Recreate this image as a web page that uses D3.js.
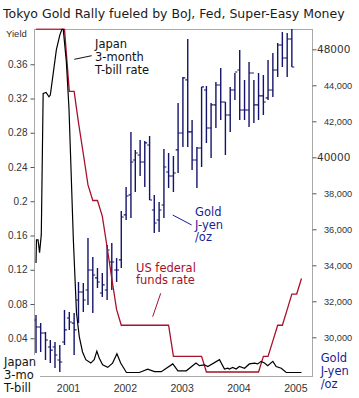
<!DOCTYPE html>
<html><head><meta charset="utf-8">
<script src="https://cdn.jsdelivr.net/npm/d3@7"></script>
<style>body{margin:0;background:#fff}svg{display:block}</style>
</head><body><svg id="c" width="359" height="398"></svg>
<script>
// ---------- data ----------
const titleText = "Tokyo Gold Rally fueled by BoJ, Fed, Super-Easy Money";
const yieldTicks = [0.04,0.08,0.12,0.16,0.20,0.24,0.28,0.32,0.36];
const yieldTickLabels = ["0.04","0.08","0.12","0.16","0.2","0.24","0.28","0.32","0.36"];
const goldTicks = [30000,32000,34000,36000,38000,40000,42000,44000,46000];
const goldTickLabels = ["30,000","32,000","34,000","36,000","38,000","40000","42,000","44,000","48000"];
const yearLabels = ["2001","2002","2003","2004","2005"];

// monthly gold bars, J-yen/oz, June 2000 .. Dec 2004
const goldFirstMonth = "2000-06-01", goldLastMonth = "2004-12-01";
const goldOpen  = [30960,30570,30240,29460,29460,28740,29740,31070,30790,32070,32520,32630,33740,33300,32460,32630,34180,33740,34300,36800,37910,39850,40130,39740,40680,37070,36520,37350,39180,38960,40410,41350,44300,41410,39850,40520,43740,41630,42910,44020,43070,42350,43740,44850,42630,42630,44680,42910,43410,43300,43740,44850,46240,45520,46570];
const goldHigh  = [31240,30790,30290,29850,29740,29570,31520,31410,31350,33070,33020,35520,34460,33850,33570,35130,35240,34410,37020,38350,41410,40410,40960,40910,41180,37910,37520,40460,40240,40070,43020,44460,46570,42070,40570,43910,43960,43020,44180,44960,43070,43910,44680,45960,44300,45300,44300,44680,44570,45410,45800,46350,46960,46910,47130];
const goldLow   = [29130,29180,28740,28570,28290,28070,29570,30410,29020,30790,31410,31800,31350,32740,32240,32070,32630,33070,33850,36520,36630,38070,38960,38350,37630,35800,35850,36630,38300,38070,39130,40570,40570,39300,38300,39460,40800,39960,41630,42070,40130,41410,43180,42070,42070,41680,41910,42070,42350,43180,43350,44460,45020,44460,45020];
const goldClose = [30570,30240,29850,29290,29020,28630,30410,30850,30410,32520,32070,33740,33460,33070,32910,34850,34180,33740,36680,37850,39740,40240,39740,40800,37630,36350,37070,39460,38960,39130,41350,44410,41410,39850,40520,43910,41630,42910,44020,43070,42350,43740,44740,42630,42630,44680,42910,43410,43070,43740,44850,46240,45520,46570,45020];

// US federal funds target rate, monthly June 2000 .. Feb 2005 (%)
const fedFirstMonth = "2000-06-01", fedLastMonth = "2005-02-01";
const fedFunds = [6.5,6.5,6.5,6.5,6.5,6.5,6.5,
  5.5,5.5,5.0,4.5,4.0,3.75,3.75,3.5,3.0,2.5,2.0,1.75,
  1.75,1.75,1.75,1.75,1.75,1.75,1.75,1.75,1.75,1.75,1.25,1.25,
  1.25,1.25,1.25,1.25,1.25,1.0,1.0,1.0,1.0,1.0,1.0,1.0,
  1.0,1.0,1.0,1.0,1.0,1.25,1.25,1.5,1.75,1.75,2.0,2.25,
  2.25,2.5];

// Japan 3-month T-bill yield (%)
const tbillDates = ["2000-06-01","2000-06-04","2000-06-14","2000-06-24","2000-07-05","2000-07-17","2000-08-05","2000-08-23","2000-09-01","2000-10-10","2000-11-01","2000-11-15","2000-11-23","2000-12-13","2000-12-30","2001-01-09","2001-01-27","2001-02-16","2001-03-06","2001-03-27","2001-04-17","2001-05-19","2001-06-10","2001-06-27","2001-07-12","2001-08-03","2001-09-05","2001-10-06","2001-11-03","2001-11-27","2002-01-03","2002-03-27","2002-05-20","2002-07-02","2002-08-15","2002-10-28","2002-11-30","2003-01-23","2003-03-26","2003-04-17","2003-05-19","2003-06-10","2003-08-24","2003-09-25","2003-10-16","2003-10-27","2003-11-17","2003-12-09","2003-12-30","2004-02-01","2004-03-03","2004-04-05","2004-04-26","2004-05-17","2004-06-08","2004-06-29","2004-08-01","2004-08-22","2004-09-24","2004-10-26","2005-02-01"];
const tbillRates = [0.128,0.155,0.155,0.140,0.161,0.326,0.327,0.322,0.324,0.377,0.394,0.401,0.401,0.363,0.308,0.254,0.155,0.070,0.042,0.024,0.015,0.011,0.015,0.025,0.017,0.009,0.006,0.011,0.022,0.011,0.000,0.000,0.004,0.001,0.001,0.010,0.002,0.002,0.011,0.008,0.009,0.007,0.015,0.004,0.005,0.004,0.006,0.004,0.007,0.005,0.010,0.011,0.010,0.013,0.011,0.008,0.013,0.007,0.005,0.000,0.000];

// ---------- drawing ----------
const parse = d3.timeParse("%Y-%m-%d");
const svg = d3.select("#c");
const L = 34.5, R = 312.5, T = 29.5, B = 376.5;
const navy = "#14146a", red = "#a8102c", grid = "#a9a9a9";

const x = d3.scaleTime().domain([parse("2000-06-01"), parse("2005-02-01")]).range([36, 301.5]);
const yL = d3.scaleLinear().domain([0, 0.4]).range([372.5, 30]);
const yR = d3.scaleLinear().domain([30000, 46000]).range([337.3, 49.3]);
const yF = d3.scaleLinear().domain([1, 6.5]).range([372, 29]);

svg.append("rect").attr("width",359).attr("height",398).attr("fill","#fff");

// title
svg.append("text").attr("x",3).attr("y",17.5).text(titleText)
  .attr("font-family","DejaVu Sans").attr("font-size",12.5).attr("fill","#1a1a1a");

// frame
svg.append("rect").attr("x",L).attr("y",T).attr("width",R-L).attr("height",B-T)
  .attr("fill","none").attr("stroke",grid).attr("stroke-width",1);

// left axis
const gL = svg.append("g").attr("transform",`translate(${L},0)`)
  .call(d3.axisLeft(yL).tickValues(yieldTicks).tickSize(4).tickPadding(3)
    .tickFormat((d,i)=>yieldTickLabels[i]));
gL.select(".domain").remove();
gL.selectAll(".tick line").attr("stroke","#555");
gL.selectAll(".tick text").attr("font-family","Liberation Sans").attr("font-size",10).attr("fill","#333");
svg.append("text").attr("x",6).attr("y",36.5).text("Yield")
  .attr("font-family","Liberation Sans").attr("font-size",9.5).attr("fill","#333");

// right axis
const gR = svg.append("g").attr("transform",`translate(${R},0)`)
  .call(d3.axisRight(yR).tickValues(goldTicks).tickSize(4).tickPadding(7)
    .tickFormat((d,i)=>goldTickLabels[i]));
gR.select(".domain").remove();
gR.selectAll(".tick line").attr("stroke","#555");
gR.selectAll(".tick text").each(function(d,i){
  const lab = goldTickLabels[i];
  const s = d3.select(this).attr("fill","#333");
  if (lab.indexOf(",") < 0) {
    s.attr("x",4.5).attr("font-family","DejaVu Sans").attr("font-size",10.5);
  } else {
    s.attr("x",11.5).attr("font-family","Liberation Sans").attr("font-size",9.2);
  }
});

// year labels
svg.append("g").selectAll("text").data(yearLabels).join("text")
  .attr("x",d=>x(parse(d+"-01-01"))-0.8).attr("y",391.5).attr("text-anchor","middle")
  .text(d=>d).attr("font-family","Liberation Sans").attr("font-size",10.5).attr("fill","#333");

// plot clip
svg.append("clipPath").attr("id","pc").append("rect")
  .attr("x",L).attr("y",T-1).attr("width",R-L).attr("height",B-T+1);
const plot = svg.append("g").attr("clip-path","url(#pc)");

// gold bars
const goldMonths = d3.timeMonth.range(parse(goldFirstMonth), d3.timeMonth.offset(parse(goldLastMonth),1));
const bars = goldMonths.map((m,i)=>({m, o:goldOpen[i], h:goldHigh[i], l:goldLow[i], c:goldClose[i]}));
const gb = plot.append("g").attr("stroke",navy).attr("stroke-width",1.4);
gb.selectAll("line.hl").data(bars).join("line").attr("class","hl")
  .attr("x1",d=>x(d.m)).attr("x2",d=>x(d.m)).attr("y1",d=>yR(d.h)).attr("y2",d=>yR(d.l));
gb.selectAll("line.op").data(bars).join("line").attr("class","op").attr("stroke-width",1.1)
  .attr("x1",d=>x(d.m)-2.4).attr("x2",d=>x(d.m)).attr("y1",d=>yR(d.o)).attr("y2",d=>yR(d.o));
gb.selectAll("line.cl").data(bars).join("line").attr("class","cl").attr("stroke-width",1.1)
  .attr("x1",d=>x(d.m)).attr("x2",d=>x(d.m)+2.4).attr("y1",d=>yR(d.c)).attr("y2",d=>yR(d.c));

// fed funds
const fedMonths = d3.timeMonth.range(parse(fedFirstMonth), d3.timeMonth.offset(parse(fedLastMonth),1));
plot.append("path").datum(fedMonths.map((m,i)=>[m,fedFunds[i]]))
  .attr("fill","none").attr("stroke",red).attr("stroke-width",1.3)
  .attr("d", d3.line().x(d=>x(d[0])).y(d=>yF(d[1])));

// T-bill
plot.append("path").datum(tbillDates.map((d,i)=>[parse(d),tbillRates[i]]))
  .attr("fill","none").attr("stroke","#000").attr("stroke-width",1.2)
  .attr("d", d3.line().x(d=>x(d[0])).y(d=>yL(d[1])));

// annotations
function label(lines, x0, y0, lh, color){
  const t = svg.append("text").attr("font-family","DejaVu Sans").attr("font-size",11.5).attr("fill",color);
  lines.forEach((s,i)=>t.append("tspan").attr("x",x0).attr("y",y0+i*lh).text(s));
}
label(["Japan","3-month","T-bill rate"], 95, 47.7, 12.9, "#111");
svg.append("line").attr("x1",74.3).attr("y1",59.3).attr("x2",91.7).attr("y2",55.7).attr("stroke","#111");
label(["US federal","funds rate"], 136, 271.7, 12.5, red);
svg.append("line").attr("x1",160.7).attr("y1",293.3).attr("x2",152.7).attr("y2",316.7).attr("stroke",red);
label(["Gold","J-yen","/oz"], 195, 216, 12.6, "#1c1c96");
svg.append("line").attr("x1",172.7).attr("y1",215).attr("x2",191.7).attr("y2",225).attr("stroke","#1c1c96");

// bottom corner labels
svg.append("rect").attr("x",0).attr("y",355).attr("width",40).attr("height",43).attr("fill","#fff");
label(["Japan","3-mo","T-bill"], 4, 365.7, 13, "#111");
label(["Gold","J-yen","/oz"], 320.7, 362.3, 13, "#1c1c96");
</script></body></html>
